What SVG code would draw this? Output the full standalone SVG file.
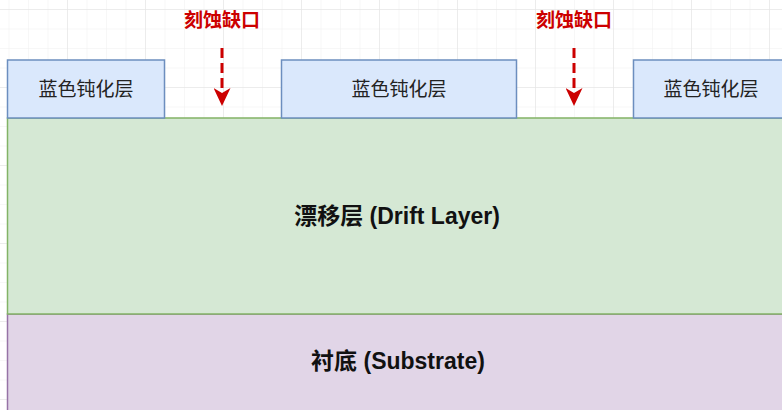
<svg xmlns="http://www.w3.org/2000/svg" width="782" height="410" viewBox="0 0 782 410">
<defs>
<pattern id="minor" x="-11" y="9" width="19.5" height="19.5" patternUnits="userSpaceOnUse">
<path d="M0 0V19.5M0 0H19.5" fill="none" stroke="#f0f0f0" stroke-width="1"/>
</pattern>
<pattern id="major" x="-11" y="9" width="78" height="78" patternUnits="userSpaceOnUse">
<path d="M0 0V78M0 0H78" fill="none" stroke="#e2e2e2" stroke-width="1"/>
</pattern>
<marker id="ah" viewBox="0 0 18 17" refX="7" refY="8.5" markerWidth="18" markerHeight="17" markerUnits="userSpaceOnUse" orient="auto">
<path d="M0 0L18 8.5L0 17L5 8.5Z" fill="#cc0000"/>
</marker>
<style>
.pas{fill:#dae8fc;stroke:#6c8ebf;stroke-width:1.5}
.lbl{font-family:"Liberation Sans","Noto Sans CJK SC",sans-serif;font-size:19px;fill:#222;text-anchor:middle;dominant-baseline:central}
.big{font-family:"Liberation Sans","Noto Sans CJK SC",sans-serif;font-size:23px;font-weight:bold;fill:#111;text-anchor:middle;dominant-baseline:central}
.red{font-family:"Liberation Sans","Noto Sans CJK SC",sans-serif;font-size:19px;font-weight:bold;fill:#cc0000;text-anchor:middle;dominant-baseline:central}
.arr{stroke:#cc0000;stroke-width:3;stroke-dasharray:10 5;fill:none}
</style>
</defs>
<rect width="782" height="410" fill="#ffffff"/>
<rect width="782" height="410" fill="url(#minor)"/>
<rect width="782" height="410" fill="url(#major)"/>
<g id="substrate">
<rect x="7.5" y="314" width="780" height="100" fill="#e1d5e7" stroke="#9673a6" stroke-width="1.5"/>
<text class="big" x="398" y="361">衬底 (Substrate)</text>
</g>
<g id="drift">
<rect x="7.5" y="118" width="780" height="196" fill="#d5e8d4" stroke="#82b366" stroke-width="1.5"/>
<text class="big" x="397" y="216">漂移层 (Drift Layer)</text>
</g>
<g id="pas1">
<rect class="pas" x="7.5" y="60" width="157" height="58"/>
<text class="lbl" x="86" y="89">蓝色钝化层</text>
</g>
<g id="pas2">
<rect class="pas" x="281.5" y="60" width="235" height="58"/>
<text class="lbl" x="399" y="89">蓝色钝化层</text>
</g>
<g id="pas3">
<rect class="pas" x="633.5" y="60" width="157" height="58"/>
<text class="lbl" x="711" y="89">蓝色钝化层</text>
</g>
<g id="etch1">
<text class="red" x="222" y="20">刻蚀缺口</text>
</g>
<g id="etch2">
<text class="red" x="574" y="20">刻蚀缺口</text>
</g>
<g id="connectors">
<path class="arr" d="M222 48V95" marker-end="url(#ah)"/>
<path class="arr" d="M574 48V95" marker-end="url(#ah)"/>
</g>
</svg>
